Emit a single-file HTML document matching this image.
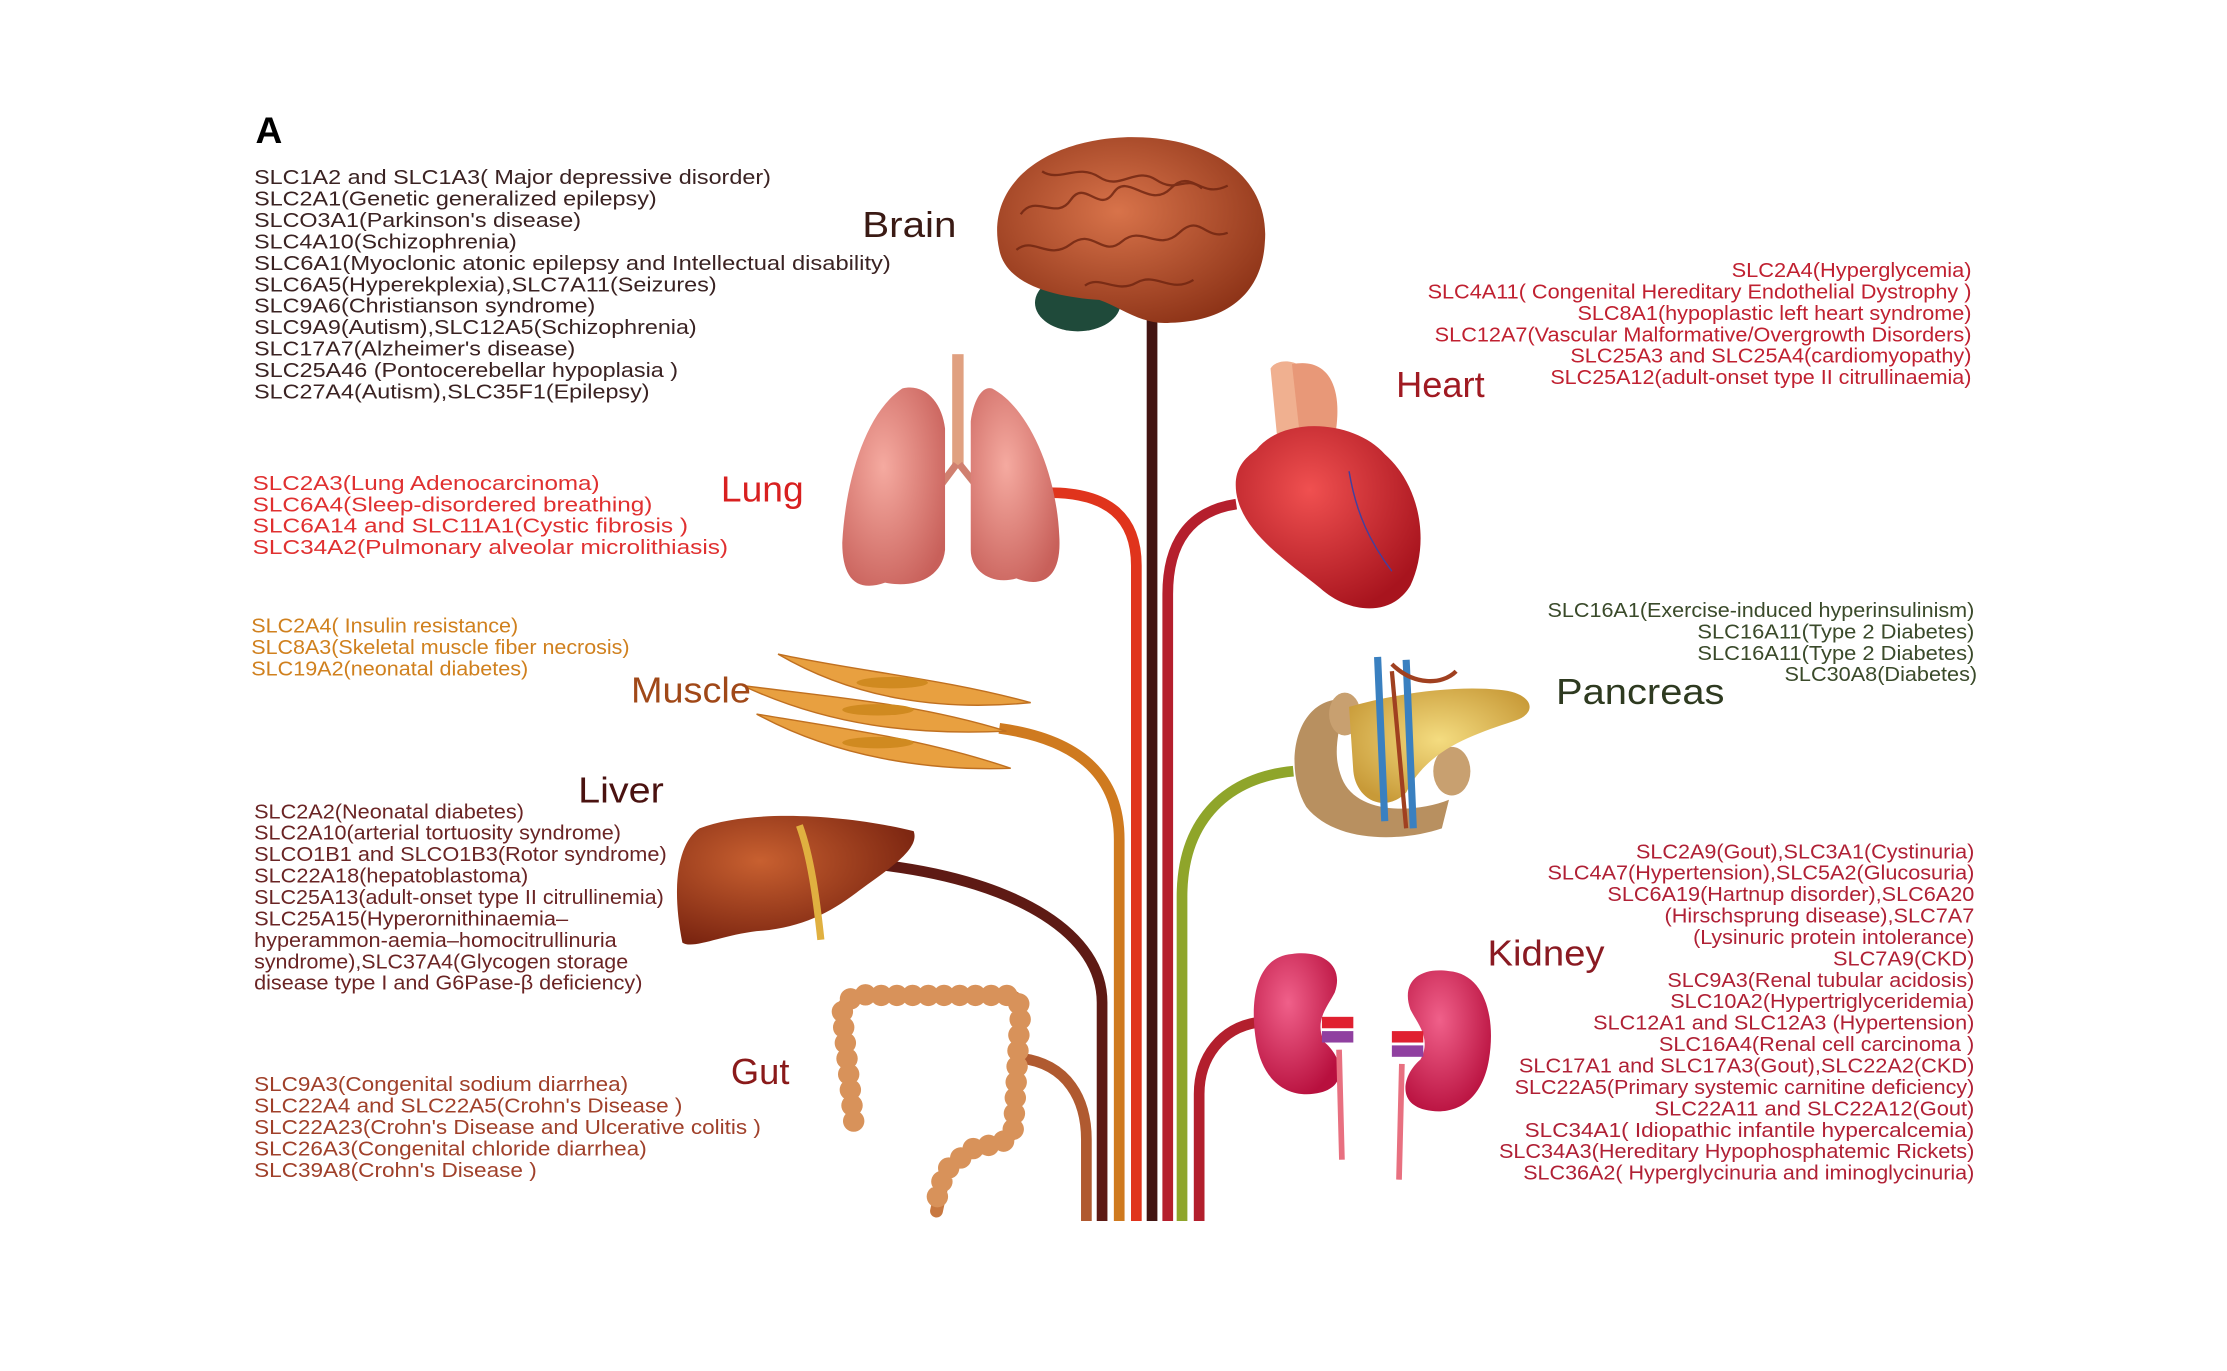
<!DOCTYPE html>
<html><head><meta charset="utf-8"><style>
html,body{margin:0;padding:0;background:#fff;}
svg{display:block}
text{font-family:"Liberation Sans",sans-serif;}
.s{font-size:14.5px}
.l{font-size:25px}
</style></head><body>
<svg width="2227" height="1371" viewBox="0 0 1560 960" preserveAspectRatio="none" xmlns="http://www.w3.org/2000/svg">
<defs>
<radialGradient id="gb" cx="45%" cy="40%" r="65%"><stop offset="0" stop-color="#d8734a"/><stop offset="1" stop-color="#8e3418"/></radialGradient>
<radialGradient id="gl" cx="40%" cy="40%" r="70%"><stop offset="0" stop-color="#f5aaa0"/><stop offset="1" stop-color="#c8605a"/></radialGradient>
<radialGradient id="gh" cx="40%" cy="35%" r="70%"><stop offset="0" stop-color="#f05050"/><stop offset="1" stop-color="#a8141e"/></radialGradient>
<radialGradient id="gk" cx="40%" cy="35%" r="70%"><stop offset="0" stop-color="#f0608a"/><stop offset="1" stop-color="#b8103e"/></radialGradient>
<radialGradient id="gv" cx="35%" cy="35%" r="70%"><stop offset="0" stop-color="#c86030"/><stop offset="1" stop-color="#7a2410"/></radialGradient>
<radialGradient id="gp" cx="50%" cy="45%" r="60%"><stop offset="0" stop-color="#f4dc80"/><stop offset="1" stop-color="#c89a38"/></radialGradient>
</defs>

<!-- trunk lines -->
<g fill="none" stroke-width="7.5">
<path d="M715,741 C748,745 761,770 761,798 V855" stroke="#b05a30"/>
<path d="M620,606 C715,618 772,655 772,702 V855" stroke="#5e1a14"/>
<path d="M700,510 C758,518 784,545 784,588 V855" stroke="#cf7a1f"/>
<path d="M735,345 C776,345 796,362 796,396 V855" stroke="#e0341c"/>
<path d="M807,220 V855" stroke="#431512"/>
<path d="M866,353 C832,358 818,382 818,416 V855" stroke="#b51f2d"/>
<path d="M906,540 C862,544 828,572 828,628 V855" stroke="#8fa52a"/>
<path d="M880,716 C856,720 840,740 840,766 V855" stroke="#b31f2d"/>
</g>

<!-- brain -->
<ellipse cx="755" cy="212" rx="30" ry="20" fill="#1f4a3a"/>
<path d="M700,175 C690,130 730,98 790,96 C850,95 890,125 886,170 C884,205 860,225 820,226 C800,228 785,215 770,210 C740,208 705,200 700,175Z" fill="url(#gb)"/>
<g fill="none" stroke="#6e2410" stroke-width="1.6" opacity="0.8">
<path d="M715,150 c10,-15 25,5 35,-10 s20,10 30,-5 s25,12 40,-3 s20,8 40,-2"/>
<path d="M712,175 c12,-10 22,8 38,-4 s22,10 36,-2 s25,8 40,-6 s18,6 34,0"/>
<path d="M730,120 c12,8 25,-6 40,4 s25,-8 40,2 s20,-4 32,6"/>
<path d="M760,200 c10,-8 22,6 36,-2 s24,8 40,-2"/>
</g>

<!-- lungs -->
<rect x="667" y="248" width="8" height="80" fill="#e0a080"/>
<path d="M670,325 L655,345 M672,325 L688,345" stroke="#d08070" stroke-width="5"/>
<path d="M632,272 C605,290 592,340 590,380 C590,405 600,415 620,408 C640,412 660,405 662,385 L662,300 C660,282 648,268 632,272Z" fill="url(#gl)"/>
<path d="M695,272 C720,285 740,330 742,375 C744,405 730,412 712,405 C695,410 680,400 680,385 L680,295 C682,280 688,270 695,272Z" fill="url(#gl)"/>

<!-- heart -->
<path d="M890,258 C895,250 912,252 915,262 L925,300 L895,310Z" fill="#f0b090"/>
<path d="M905,255 C930,250 940,270 936,300 L910,300Z" fill="#e89878"/>
<path d="M880,315 C900,290 950,295 970,318 C995,340 1002,380 988,410 C975,432 945,430 925,412 C900,392 870,372 866,345 C864,330 870,322 880,315Z" fill="url(#gh)"/>
<path d="M945,330 C950,360 960,380 975,400" stroke="#4040a0" stroke-width="1" fill="none"/>

<!-- muscle -->
<g fill="#e8a040" stroke="#c07020" stroke-width="1">
<path d="M545,458 C600,470 660,475 722,492 C660,498 600,490 545,458Z"/>
<path d="M520,480 C580,488 640,492 705,512 C640,515 580,508 520,480Z"/>
<path d="M530,500 C590,510 650,518 708,538 C650,540 585,530 530,500Z"/>
</g>
<g fill="#d08a20"><ellipse cx="625" cy="478" rx="25" ry="4"/><ellipse cx="615" cy="497" rx="25" ry="4"/><ellipse cx="615" cy="520" rx="25" ry="4"/></g>

<!-- pancreas -->
<path d="M935,490 C905,495 900,540 915,565 C935,590 980,590 1010,580 L1015,560 C990,570 950,570 940,545 C930,520 945,505 935,490Z" fill="#b89060"/>
<ellipse cx="1017" cy="540" rx="13" ry="17" fill="#c8a070"/>
<ellipse cx="942" cy="500" rx="11" ry="15" fill="#c8a070"/>
<path d="M945,495 C980,485 1020,480 1050,483 C1075,485 1078,500 1060,505 C1030,515 1000,525 985,555 C970,570 950,560 948,540Z" fill="url(#gp)"/>
<path d="M965,460 L970,575 M985,462 L990,580" stroke="#3a80c0" stroke-width="5"/>
<path d="M975,465 C990,480 1010,480 1020,470 M975,470 L985,580" stroke="#a04020" stroke-width="3" fill="none"/>

<!-- liver -->
<path d="M490,580 C530,565 600,572 640,582 C645,595 620,610 600,625 C580,640 560,650 530,652 C505,655 485,665 478,660 C470,620 475,590 490,580Z" fill="url(#gv)"/>
<path d="M560,578 C568,600 572,630 575,658" stroke="#e0b040" stroke-width="5" fill="none"/>

<!-- gut -->
<path d="M598,785 L590,710 C590,700 600,695 612,697 L705,697 C714,697 716,705 714,720 L710,790 C705,805 690,800 680,805 L662,820 L656,848" fill="none" stroke="#c87840" stroke-width="9" stroke-linecap="round"/>
<path d="M598,785 L590,710 C590,700 600,695 612,697 L705,697 C714,697 716,705 714,720 L710,790 C705,805 690,800 680,805 L662,820 L656,840" fill="none" stroke="#d8925a" stroke-width="15" stroke-linecap="round" stroke-dasharray="0 11"/>

<!-- kidneys -->
<path d="M905,668 C880,670 875,700 880,730 C885,760 905,770 925,765 C945,760 940,740 928,730 C920,715 930,705 935,695 C942,675 925,665 905,668Z" fill="url(#gk)"/>
<path d="M1015,680 C1040,682 1048,712 1043,742 C1038,772 1018,782 998,777 C978,772 983,752 995,742 C1003,727 993,717 988,707 C981,687 995,677 1015,680Z" fill="url(#gk)"/>
<rect x="926" y="712" width="22" height="8" fill="#e02030"/><rect x="926" y="722" width="22" height="8" fill="#9040a0"/>
<rect x="975" y="722" width="22" height="8" fill="#e02030"/><rect x="975" y="732" width="22" height="8" fill="#9040a0"/>
<path d="M938,735 L940,812 M982,745 L980,826" stroke="#e87080" stroke-width="4"/>

<!-- Title -->
<text x="179" y="100" font-size="26" font-weight="bold">A</text>

<!-- labels -->
<text class="l" x="604" y="166" fill="#3a1a14" textLength="66" lengthAdjust="spacingAndGlyphs">Brain</text>
<text class="l" x="978" y="278" fill="#a01a22" textLength="62" lengthAdjust="spacingAndGlyphs">Heart</text>
<text class="l" x="505" y="351" fill="#d82020" textLength="58" lengthAdjust="spacingAndGlyphs">Lung</text>
<text class="l" x="442" y="492" fill="#a04818" textLength="84" lengthAdjust="spacingAndGlyphs">Muscle</text>
<text class="l" x="1090" y="493" fill="#2e3a20" textLength="118" lengthAdjust="spacingAndGlyphs">Pancreas</text>
<text class="l" x="405" y="562" fill="#4a1210" textLength="60" lengthAdjust="spacingAndGlyphs">Liver</text>
<text class="l" x="1042" y="676" fill="#8a1a22" textLength="82" lengthAdjust="spacingAndGlyphs">Kidney</text>
<text class="l" x="512" y="759" fill="#8a1a1a" textLength="41" lengthAdjust="spacingAndGlyphs">Gut</text>

<!-- brain list -->
<g class="s" fill="#3a2222">
<text x="178" y="129" textLength="362" lengthAdjust="spacingAndGlyphs">SLC1A2 and SLC1A3( Major depressive disorder)</text>
<text x="178" y="144" textLength="282" lengthAdjust="spacingAndGlyphs">SLC2A1(Genetic generalized epilepsy)</text>
<text x="178" y="159" textLength="229" lengthAdjust="spacingAndGlyphs">SLCO3A1(Parkinson's disease)</text>
<text x="178" y="174" textLength="184" lengthAdjust="spacingAndGlyphs">SLC4A10(Schizophrenia)</text>
<text x="178" y="189" textLength="446" lengthAdjust="spacingAndGlyphs">SLC6A1(Myoclonic atonic epilepsy  and Intellectual disability)</text>
<text x="178" y="204" textLength="324" lengthAdjust="spacingAndGlyphs">SLC6A5(Hyperekplexia),SLC7A11(Seizures)</text>
<text x="178" y="219" textLength="239" lengthAdjust="spacingAndGlyphs">SLC9A6(Christianson syndrome)</text>
<text x="178" y="234" textLength="310" lengthAdjust="spacingAndGlyphs">SLC9A9(Autism),SLC12A5(Schizophrenia)</text>
<text x="178" y="249" textLength="225" lengthAdjust="spacingAndGlyphs">SLC17A7(Alzheimer's disease)</text>
<text x="178" y="264" textLength="297" lengthAdjust="spacingAndGlyphs">SLC25A46 (Pontocerebellar hypoplasia )</text>
<text x="178" y="279" textLength="277" lengthAdjust="spacingAndGlyphs">SLC27A4(Autism),SLC35F1(Epilepsy)</text>
</g>

<!-- lung list -->
<g class="s" fill="#e03030">
<text x="177" y="343" textLength="243" lengthAdjust="spacingAndGlyphs">SLC2A3(Lung Adenocarcinoma)</text>
<text x="177" y="358" textLength="280" lengthAdjust="spacingAndGlyphs">SLC6A4(Sleep-disordered breathing)</text>
<text x="177" y="373" textLength="305" lengthAdjust="spacingAndGlyphs">SLC6A14 and SLC11A1(Cystic fibrosis )</text>
<text x="177" y="388" textLength="333" lengthAdjust="spacingAndGlyphs">SLC34A2(Pulmonary alveolar microlithiasis)</text>
</g>

<!-- muscle list -->
<g class="s" fill="#d0801e">
<text x="176" y="443" textLength="187" lengthAdjust="spacingAndGlyphs">SLC2A4( Insulin resistance)</text>
<text x="176" y="458" textLength="265" lengthAdjust="spacingAndGlyphs">SLC8A3(Skeletal muscle fiber necrosis)</text>
<text x="176" y="473" textLength="194" lengthAdjust="spacingAndGlyphs">SLC19A2(neonatal diabetes)</text>
</g>

<!-- liver list -->
<g class="s" fill="#6a2424">
<text x="178" y="573" textLength="189" lengthAdjust="spacingAndGlyphs">SLC2A2(Neonatal diabetes)</text>
<text x="178" y="588" textLength="257" lengthAdjust="spacingAndGlyphs">SLC2A10(arterial tortuosity syndrome)</text>
<text x="178" y="603" textLength="289" lengthAdjust="spacingAndGlyphs">SLCO1B1 and SLCO1B3(Rotor syndrome)</text>
<text x="178" y="618" textLength="192" lengthAdjust="spacingAndGlyphs">SLC22A18(hepatoblastoma)</text>
<text x="178" y="633" textLength="287" lengthAdjust="spacingAndGlyphs">SLC25A13(adult-onset type II citrullinemia)</text>
<text x="178" y="648" textLength="220" lengthAdjust="spacingAndGlyphs">SLC25A15(Hyperornithinaemia–</text>
<text x="178" y="663" textLength="254" lengthAdjust="spacingAndGlyphs">hyperammon-aemia–homocitrullinuria</text>
<text x="178" y="678" textLength="262" lengthAdjust="spacingAndGlyphs">syndrome),SLC37A4(Glycogen storage</text>
<text x="178" y="693" textLength="272" lengthAdjust="spacingAndGlyphs">disease type I and G6Pase-β deficiency)</text>
</g>

<!-- gut list -->
<g class="s" fill="#a0402a">
<text x="178" y="764" textLength="262" lengthAdjust="spacingAndGlyphs">SLC9A3(Congenital sodium diarrhea)</text>
<text x="178" y="779" textLength="300" lengthAdjust="spacingAndGlyphs">SLC22A4 and SLC22A5(Crohn's Disease )</text>
<text x="178" y="794" textLength="355" lengthAdjust="spacingAndGlyphs">SLC22A23(Crohn's Disease and Ulcerative colitis )</text>
<text x="178" y="809" textLength="275" lengthAdjust="spacingAndGlyphs">SLC26A3(Congenital chloride diarrhea)</text>
<text x="178" y="824" textLength="198" lengthAdjust="spacingAndGlyphs">SLC39A8(Crohn's Disease )</text>
</g>

<!-- heart list -->
<g class="s" fill="#c02030">
<text x="1213" y="194" textLength="168" lengthAdjust="spacingAndGlyphs">SLC2A4(Hyperglycemia)</text>
<text x="1000" y="209" textLength="381" lengthAdjust="spacingAndGlyphs">SLC4A11( Congenital Hereditary Endothelial Dystrophy )</text>
<text x="1105" y="224" textLength="276" lengthAdjust="spacingAndGlyphs">SLC8A1(hypoplastic left heart syndrome)</text>
<text x="1005" y="239" textLength="376" lengthAdjust="spacingAndGlyphs">SLC12A7(Vascular Malformative/Overgrowth Disorders)</text>
<text x="1100" y="254" textLength="281" lengthAdjust="spacingAndGlyphs">SLC25A3 and SLC25A4(cardiomyopathy)</text>
<text x="1086" y="269" textLength="295" lengthAdjust="spacingAndGlyphs">SLC25A12(adult-onset type II citrullinaemia)</text>
</g>

<!-- pancreas list -->
<g class="s" fill="#3a4a2a">
<text x="1084" y="432" textLength="299" lengthAdjust="spacingAndGlyphs">SLC16A1(Exercise-induced hyperinsulinism)</text>
<text x="1189" y="447" textLength="194" lengthAdjust="spacingAndGlyphs">SLC16A11(Type 2 Diabetes)</text>
<text x="1189" y="462" textLength="194" lengthAdjust="spacingAndGlyphs">SLC16A11(Type 2 Diabetes)</text>
<text x="1250" y="477" textLength="135" lengthAdjust="spacingAndGlyphs">SLC30A8(Diabetes)</text>
</g>

<!-- kidney list -->
<g class="s" fill="#b02035">
<text x="1146" y="601" textLength="237" lengthAdjust="spacingAndGlyphs">SLC2A9(Gout),SLC3A1(Cystinuria)</text>
<text x="1084" y="616" textLength="299" lengthAdjust="spacingAndGlyphs">SLC4A7(Hypertension),SLC5A2(Glucosuria)</text>
<text x="1126" y="631" textLength="257" lengthAdjust="spacingAndGlyphs">SLC6A19(Hartnup disorder),SLC6A20</text>
<text x="1166" y="646" textLength="217" lengthAdjust="spacingAndGlyphs">(Hirschsprung disease),SLC7A7</text>
<text x="1186" y="661" textLength="197" lengthAdjust="spacingAndGlyphs">(Lysinuric protein intolerance)</text>
<text x="1284" y="676" textLength="99" lengthAdjust="spacingAndGlyphs">SLC7A9(CKD)</text>
<text x="1168" y="691" textLength="215" lengthAdjust="spacingAndGlyphs">SLC9A3(Renal tubular acidosis)</text>
<text x="1170" y="706" textLength="213" lengthAdjust="spacingAndGlyphs">SLC10A2(Hypertriglyceridemia)</text>
<text x="1116" y="721" textLength="267" lengthAdjust="spacingAndGlyphs">SLC12A1 and SLC12A3 (Hypertension)</text>
<text x="1162" y="736" textLength="221" lengthAdjust="spacingAndGlyphs">SLC16A4(Renal cell carcinoma )</text>
<text x="1064" y="751" textLength="319" lengthAdjust="spacingAndGlyphs">SLC17A1 and SLC17A3(Gout),SLC22A2(CKD)</text>
<text x="1061" y="766" textLength="322" lengthAdjust="spacingAndGlyphs">SLC22A5(Primary systemic carnitine deficiency)</text>
<text x="1159" y="781" textLength="224" lengthAdjust="spacingAndGlyphs">SLC22A11 and SLC22A12(Gout)</text>
<text x="1068" y="796" textLength="315" lengthAdjust="spacingAndGlyphs">SLC34A1( Idiopathic infantile hypercalcemia)</text>
<text x="1050" y="811" textLength="333" lengthAdjust="spacingAndGlyphs">SLC34A3(Hereditary Hypophosphatemic Rickets)</text>
<text x="1067" y="826" textLength="316" lengthAdjust="spacingAndGlyphs">SLC36A2( Hyperglycinuria and iminoglycinuria)</text>
</g>
</svg>
</body></html>
